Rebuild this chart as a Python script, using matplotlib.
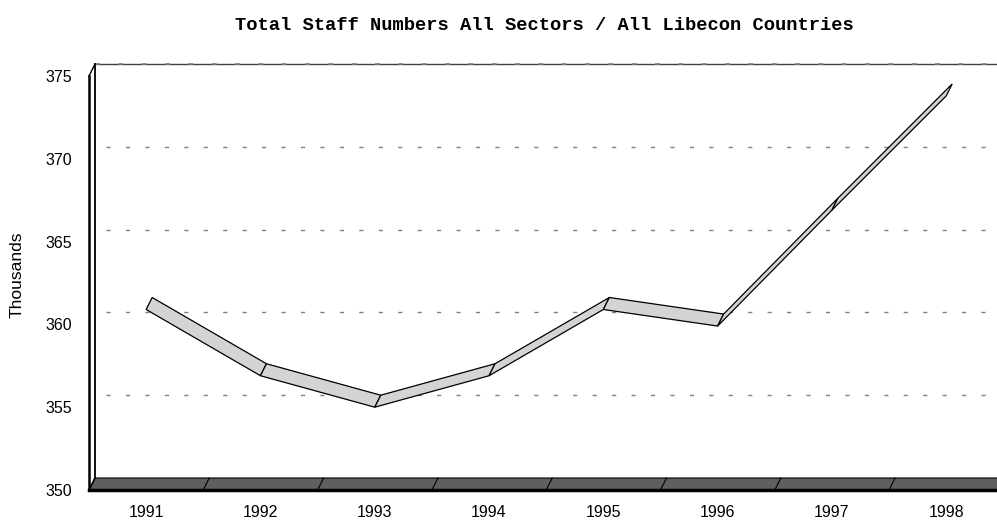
import matplotlib
matplotlib.use("Agg")
import matplotlib.pyplot as plt

# data
years = ["1991", "1992", "1993", "1994", "1995", "1996", "1997", "1998"]
staff = [360.9, 356.9, 355.0, 356.9, 360.9, 359.9, 366.9, 373.8]
y_ticks = [350, 355, 360, 365, 370, 375]
grid_values = [355, 360, 365, 370]

W, H = 997, 522
DEPTH_X, DEPTH_Y = 6, 12  # 3d depth offset in pixels

plt.rcParams["font.family"] = ["Liberation Sans", "DejaVu Sans"]

fig = plt.figure(figsize=(W / 100, H / 100), dpi=100)

# front plane of the 3d box, in pixels
left_px, right_px = 89, 89 + 8 * 114.3
bottom_px, top_px = 490, 76
ax = fig.add_axes([left_px / W, (H - bottom_px) / H,
                   (right_px - left_px) / W, (bottom_px - top_px) / H])
n = len(years)
x0, x1 = -0.5, n - 0.5
ymin, ymax = y_ticks[0], y_ticks[-1]
ax.set_xlim(x0, x1)
ax.set_ylim(ymin, ymax)
for s in ax.spines.values():
    s.set_visible(False)
ax.patch.set_visible(False)

# depth offset in data units
dx = DEPTH_X * (x1 - x0) / ax.bbox.width
dy = DEPTH_Y * (ymax - ymin) / ax.bbox.height

# back wall gridlines
for v in grid_values:
    ax.plot([x0 + dx + 0.1, x1 + dx], [v + dy, v + dy], color="#808080",
            lw=1, linestyle=(0, (3, 11)), clip_on=False, zorder=1)
ax.plot([x0 + dx, x1 + dx], [ymax + dy, ymax + dy], color="#404040",
        lw=1, clip_on=False, zorder=1)
ax.plot([x0 + dx, x1 + dx], [ymax + dy, ymax + dy], color="#808080",
        lw=1.2, linestyle=(0, (3, 11)), clip_on=False, zorder=1)

# left wall
ax.plot([x0 + dx, x0 + dx], [ymin + dy, ymax + dy], color="black", lw=1.3,
        clip_on=False, zorder=2)
ax.plot([x0, x0], [ymin, ymax], color="black", lw=1.8, clip_on=False, zorder=2)
ax.plot([x0, x0 + dx], [ymax, ymax + dy], color="black", lw=1, clip_on=False, zorder=2)

# floor
ax.fill([x0, x1, x1 + dx, x0 + dx], [ymin, ymin, ymin + dy, ymin + dy],
        facecolor="#5f5f5f", edgecolor="black", lw=0.8, clip_on=False, zorder=2)
for k in range(n):
    ax.plot([k + 0.5, k + 0.5 + dx], [ymin, ymin + dy], color="black", lw=0.8,
            clip_on=False, zorder=3)
ax.plot([x0, x1], [ymin, ymin], color="black", lw=2.5, clip_on=False, zorder=3)
ax.plot([x0, x0 + dx], [ymin, ymin + dy], color="black", lw=1.2, clip_on=False, zorder=3)

# ribbon
for i in range(n - 1):
    xs = [i, i + 1, i + 1 + dx, i + dx]
    ys = [staff[i], staff[i + 1], staff[i + 1] + dy, staff[i] + dy]
    ax.fill(xs, ys, facecolor="#d4d4d4", edgecolor="black", lw=0.9,
            joinstyle="miter", clip_on=False, zorder=4 + i)

ax.set_xticks(range(n))
ax.set_xticklabels(years, fontsize=11.5)
ax.set_yticks(y_ticks)
ax.set_yticklabels([str(v) for v in y_ticks], fontsize=11.5)
ax.tick_params(axis="x", length=0, pad=11)
ax.tick_params(axis="y", length=0, pad=12)

fig.text(17 / W, 1 - 275 / H, "Thousands", rotation=90, fontsize=12.5,
         ha="center", va="center")
fig.text(544 / W, 1 - 25 / H,
         "Total Staff Numbers All Sectors / All Libecon Countries",
         family=["Liberation Mono", "DejaVu Sans Mono"], weight="bold",
         fontsize=13.5, ha="center", va="center")

fig.savefig("out.png", dpi=100)
